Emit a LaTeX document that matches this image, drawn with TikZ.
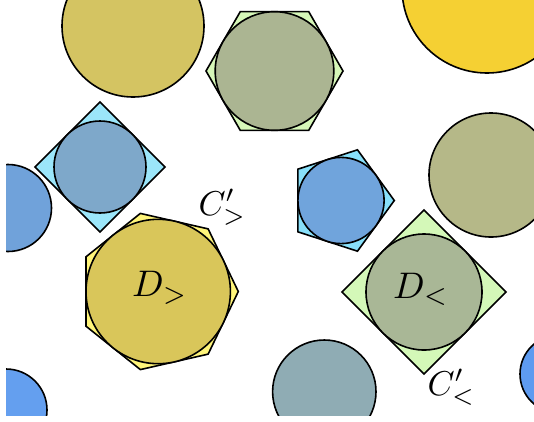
\documentclass[tikz,border=0pt]{standalone}
\begin{document}
\begin{tikzpicture}[x=1pt,y=-1pt,
  shp/.style={draw=black,line width=1.6pt,line join=miter},
  lbl/.style={anchor=base,inner sep=0pt,text=black}]
\useasboundingbox (0,0) rectangle (534,421);
\definecolor{olivecA}{HTML}{D4C462}
\definecolor{hexfill}{HTML}{D6F7B8}
\definecolor{hexcirc}{HTML}{ABB592}
\definecolor{yellowA}{HTML}{F5D033}
\definecolor{oliveB}{HTML}{B5B888}
\definecolor{diaLfill}{HTML}{9BE6FA}
\definecolor{diaLcirc}{HTML}{7EA8CA}
\definecolor{blueL}{HTML}{70A2DA}
\definecolor{penfill}{HTML}{88E0FA}
\definecolor{pencirc}{HTML}{70A4DC}
\definecolor{hepfill}{HTML}{FFF57A}
\definecolor{hepcirc}{HTML}{D9C65A}
\definecolor{diaRfill}{HTML}{D4F8B8}
\definecolor{diaRcirc}{HTML}{A9B796}
\definecolor{greyB}{HTML}{8FACB4}
\definecolor{blueBL}{HTML}{649FEF}
\definecolor{blueBR}{HTML}{5E9BF0}
\begin{scope}
\clip (6,0) rectangle (534,415);
% top olive circle
\draw[shp,fill=olivecA] (133,26) circle[radius=71];
% hexagon with circle
\draw[shp,fill=hexfill,shift={(274.5,71)}] (0:68.5) -- (60:68.5) -- (120:68.5) -- (180:68.5) -- (240:68.5) -- (300:68.5) -- cycle;
\draw[shp,fill=hexcirc] (274.5,71) circle[radius=59.3];
% top right yellow
\draw[shp,fill=yellowA] (487,-12) circle[radius=85];
% right olive circle
\draw[shp,fill=oliveB] (491,175) circle[radius=62];
% left diamond
\draw[shp,fill=diaLfill] (100,102) -- (165,167) -- (100,232) -- (35,167) -- cycle;
\draw[shp,fill=diaLcirc] (100,167) circle[radius=46];
% left blue circle
\draw[shp,fill=blueL] (8,208) circle[radius=43.5];
% pentagon
\draw[shp,fill=penfill,shift={(341,200.5)}] (0:53.3) -- (72:53.3) -- (144:53.3) -- (216:53.3) -- (288:53.3) -- cycle;
\draw[shp,fill=pencirc] (341,200.5) circle[radius=43.1];
% heptagon
\draw[shp,fill=hepfill,shift={(158.2,291.5)}] (0:80.1) -- (51.43:80.1) -- (102.86:80.1) -- (154.29:80.1) -- (205.71:80.1) -- (257.14:80.1) -- (308.57:80.1) -- cycle;
\draw[shp,fill=hepcirc] (158.2,291.5) circle[radius=72.2];
% right diamond
\draw[shp,fill=diaRfill] (424,210) -- (506,292) -- (424,374) -- (342,292) -- cycle;
\draw[shp,fill=diaRcirc] (424,292) circle[radius=58];
% bottom circles
\draw[shp,fill=greyB] (324.3,391.7) circle[radius=51.7];
\draw[shp,fill=blueBL] (6,410) circle[radius=41];
\draw[shp,fill=blueBR] (559,374) circle[radius=39];
\end{scope}
% labels
\node[lbl] (dg) at (160,296.5) {\scalebox{3.7}{$D_>$}};
\node[lbl] (dl) at (421,298) {\scalebox{3.7}{$D_<$}};
\node[lbl] (cg) at (222.5,215) {\scalebox{3.45}{$C'_>$}};
\node[lbl] (cl) at (451.5,395) {\scalebox{3.45}{$C'_<$}};
\end{tikzpicture}
\end{document}
